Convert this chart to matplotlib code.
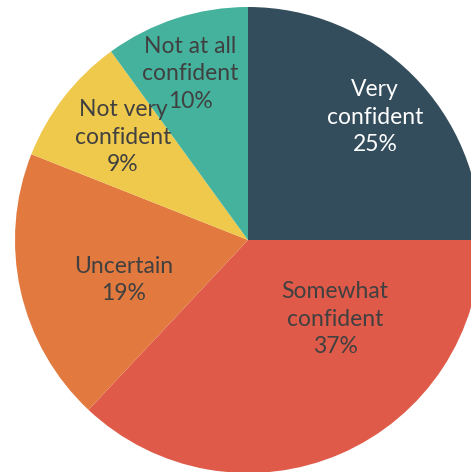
import matplotlib.pyplot as plt

# respuestas de confianza, en porcentaje
etiquetas = ["Very\nconfident", "Somewhat\nconfident", "Uncertain",
             "Not very\nconfident", "Not at all\nconfident"]
valores = [25, 37, 19, 9, 10]
colores = ["#334D5C", "#DF5A49", "#E27A3F", "#EFC94C", "#45B29D"]
color_texto = ["white", "#404040", "#404040", "#404040", "#404040"]

# posicion de cada texto relativa al centro (px)
desplazamientos = [(127, 123), (87, -79), (-124, -40), (-125, 103), (-58, 166)]

fig = plt.figure(figsize=(4.71, 4.72), dpi=100)
ax = fig.add_axes([0, 0, 1, 1])

centro = (248, 232)
ax.pie(valores, colors=colores, startangle=90, counterclock=False,
       center=centro, radius=233, frame=True,
       wedgeprops=dict(linewidth=0))
ax.set_xlim(0, 471)
ax.set_ylim(0, 472)
ax.set_aspect('equal')
ax.axis('off')

for etq, v, (dx, dy), c in zip(etiquetas, valores, desplazamientos, color_texto):
    ax.text(centro[0] + dx, centro[1] + dy, f"{etq}\n{v}%", ha="center",
            va="center", color=c, fontsize=16.5, family="Lato",
            linespacing=1.38)

fig.savefig("out.png", dpi=100)
